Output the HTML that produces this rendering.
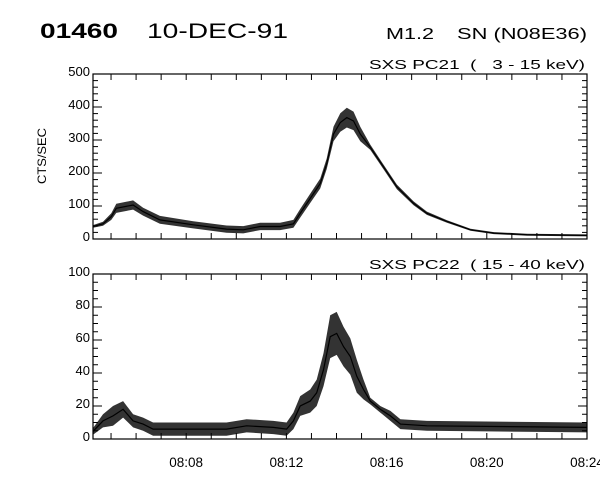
<!DOCTYPE html>
<html><head><meta charset="utf-8"><style>
body{margin:0;background:#fff}
svg text{font-family:"Liberation Sans",sans-serif;fill:#000}
</style></head><body>
<svg width="600" height="480" xmlns="http://www.w3.org/2000/svg">
<g id="hdr">
<text x="40" y="38" font-size="21" font-weight="bold" textLength="78" lengthAdjust="spacingAndGlyphs">01460</text>
<text x="147" y="38" font-size="21" textLength="141" lengthAdjust="spacingAndGlyphs">10-DEC-91</text>
<text x="386" y="39" font-size="16" textLength="48" lengthAdjust="spacingAndGlyphs">M1.2</text>
<text x="457" y="39" font-size="16" textLength="130" lengthAdjust="spacingAndGlyphs">SN (N08E36)</text>
<text x="369" y="69" font-size="12.5" textLength="216" lengthAdjust="spacingAndGlyphs" xml:space="preserve">SXS PC21  (   3 - 15 keV)</text>
<text x="369" y="269" font-size="12.5" textLength="216" lengthAdjust="spacingAndGlyphs" xml:space="preserve">SXS PC22  ( 15 - 40 keV)</text>
<text transform="translate(46,156) rotate(-90)" font-size="12" text-anchor="middle" textLength="56" lengthAdjust="spacingAndGlyphs">CTS/SEC</text>
</g>
<g id="plots"></g>
</svg>
<script>
const xTickLabels=["08:08","08:12","08:16","08:20","08:24"];
const xTickMinutes=[8,12,16,20,24];
const topTimes=[4.28,4.68,5.01,5.21,5.88,6.28,6.95,8.28,9.61,10.28,10.95,11.75,12.28,12.55,12.95,13.35,13.61,13.88,14.15,14.41,14.68,14.95,15.35,15.88,16.41,17.08,17.61,18.41,19.35,20.28,21.61,24.0];
const topValues=[38,46,68,93,103,83,58,43,30,28,38,38,46,78,123,168,228,318,353,368,358,318,278,218,158,108,78,53,28,18,13,11];
const topNoise=[4,6,10,14,14,12,12,11,11,11,11,11,12,13,14,15,16,22,28,30,28,22,8,7,7,6,5,4,3,3,3,3];
const topTicks=[0,100,200,300,400,500];
const botTimes=[4.28,4.68,5.08,5.48,5.88,6.28,6.68,8.28,9.61,10.41,11.48,12.01,12.28,12.55,12.95,13.21,13.48,13.75,14.01,14.28,14.55,14.81,15.08,15.35,15.75,16.15,16.55,17.61,24.0];
const botValues=[4.6,11,14,18,11,9,6,6,6,8,7,6,11,20,23,28,42,62,64,56,50,38,30,23,18,14,9,8,7];
const botNoise=[2,4,6,5,4,4,4,4,4,4,4,4,5,6,7,8,10,13,13,12,11,10,6,2,2,3,3,3,3];
const botTicks=[0,20,40,60,80,100];
const NS="http://www.w3.org/2000/svg";
const plots=document.getElementById('plots');
const X0=93,X1=587,TMIN=4.28,TMAX=24;
function xs(t){return X0+(t-TMIN)/(TMAX-TMIN)*(X1-X0);}
function mk(tag,attrs,parent){const e=document.createElementNS(NS,tag);for(const k in attrs)e.setAttribute(k,attrs[k]);(parent||plots).appendChild(e);return e;}
function panel(name,top,bot,ymax,times,vals,noise,ticks,minorStep,showX){
  const ys=v=>bot-(v/ymax)*(bot-top);
  const g=mk('g',{});
  
  
  let up=[],dn=[];
  for(let i=0;i<times.length;i++){up.push(xs(times[i]).toFixed(1)+','+ys(Math.min(ymax,vals[i]+noise[i])).toFixed(1));dn.unshift(xs(times[i]).toFixed(1)+','+ys(Math.max(0,vals[i]-noise[i])).toFixed(1));}
  const band=mk('polygon',{points:up.concat(dn).join(' '),fill:'#000','fill-opacity':'0.8',stroke:'none'},g);
  
  
  const line=mk('polyline',{points:times.map((t,i)=>xs(t).toFixed(1)+','+ys(vals[i]).toFixed(1)).join(' '),fill:'none',stroke:'#000','stroke-width':'1.2'},g);
  
  
  const fr=mk('rect',{x:X0,y:top,width:X1-X0,height:bot-top,fill:'none',stroke:'#000','stroke-width':'1.2'},g);
  
  
  for(let v=0;v<=ymax+1e-6;v+=minorStep){
    const major=ticks.some(t=>Math.abs(t-v)<1e-6);const L=major?9:5;const y=ys(v);
    mk('line',{x1:X0,x2:X0+L,y1:y,y2:y,stroke:'#000'},g);mk('line',{x1:X1,x2:X1-L,y1:y,y2:y,stroke:'#000'},g);
  }
  ticks.forEach(v=>{const t=mk('text',{x:X0-3,y:ys(v)+2,'font-size':'13','text-anchor':'end'},g);t.textContent=v;
    
    });
  for(let m=5;m<=24;m++){const x=xs(m);mk('line',{x1:x,x2:x,y1:bot,y2:bot-6,stroke:'#000'},g);mk('line',{x1:x,x2:x,y1:top,y2:top+6,stroke:'#000'},g);}
  if(showX){xTickMinutes.forEach((m,i)=>{const t=mk('text',{x:xs(m),y:bot+28,'font-size':'13.5','text-anchor':'middle'},g);t.textContent=xTickLabels[i];
    
    });}
}
panel('top',74,239,500,topTimes,topValues,topNoise,topTicks,20,false);
panel('bottom',274,439,100,botTimes,botValues,botNoise,botTicks,5,true);
</script>
</body></html>
